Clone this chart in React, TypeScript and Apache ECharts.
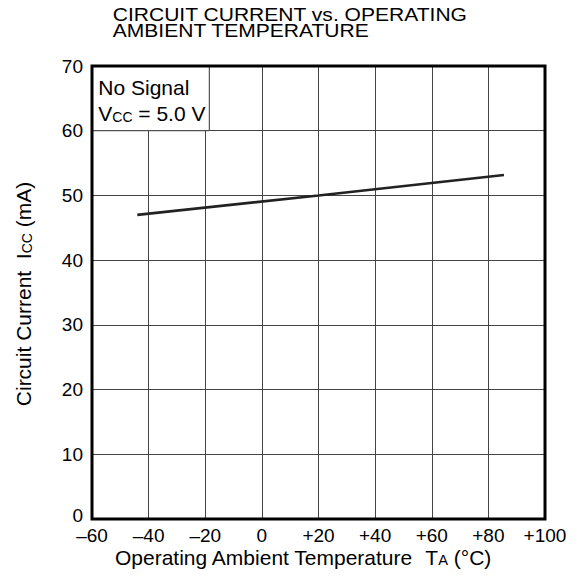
import React, { useEffect, useRef } from "react";
import * as echarts from "echarts";

// ---- data ----
const temperatureC = [-44, 20, 85.5];
const currentMA = [47.0, 50.0, 53.15];

const xMin = -60;
const xMax = 100;
const xStep = 20;
const yMin = 0;
const yMax = 70;
const yStep = 10;

const titleLines = ["CIRCUIT CURRENT vs. OPERATING", "AMBIENT TEMPERATURE"];
const noteLine1 = "No Signal";
const noteVcc = ["V", "CC", "= 5.0 V"];
const xName = ["Operating Ambient Temperature", "T", "A", "(°C)"];
const yName = ["Circuit Current", "I", "CC", "(mA)"];

// ---- layout ----
const W = 583;
const H = 577;
const GRID = { left: 92, top: 66, width: 453, height: 453 };
const FONT = "'Liberation Sans', Arial, Helvetica, sans-serif";

function fmtX(v: number): string {
  if (v > 0) return "+" + v;
  if (v < 0) return "\u2013" + -v;
  return "0";
}

function fmtY(v: number): string {
  return v === 0 ? "{z|0}" : String(v);
}

function rich(fs: number, sfs: number, gap1: number, gap2: number) {
  const m = { fontSize: fs, fontFamily: FONT, fill: "#000", lineHeight: fs, verticalAlign: "bottom" };
  return {
    m,
    s: {
      fontSize: sfs,
      fontFamily: FONT,
      fill: "#000",
      lineHeight: fs - 0.62 * (fs - sfs),
      verticalAlign: "bottom",
    },
    g: { ...m, padding: [0, 0, 0, gap1] },
    h: { ...m, padding: [0, 0, 0, gap2] },
  };
}

export default function App() {
  const ref = useRef<HTMLDivElement>(null);

  useEffect(() => {
    if (!ref.current) return;
    const chart = echarts.init(ref.current, undefined, { renderer: "svg", width: W, height: H });

    const data = temperatureC.map((t, i) => [t, currentMA[i]]);
    const rowH = GRID.height / ((yMax - yMin) / yStep);

    chart.setOption({
      animation: false,
      backgroundColor: "#fff",
      grid: {
        left: GRID.left,
        top: GRID.top,
        width: GRID.width,
        height: GRID.height,
        show: false,
      },
      xAxis: {
        type: "value",
        min: xMin,
        max: xMax,
        interval: xStep,
        axisLine: { show: false },
        axisTick: { show: false },
        splitLine: { show: true, showMinLine: false, showMaxLine: false, lineStyle: { color: "#444", width: 1 } },
        axisLabel: {
          fontSize: 19,
          fontFamily: FONT,
          color: "#000",
          margin: 7,
          formatter: fmtX,
        },
      },
      yAxis: {
        type: "value",
        min: yMin,
        max: yMax,
        interval: yStep,
        axisLine: { show: false },
        axisTick: { show: false },
        splitLine: { show: true, showMinLine: false, showMaxLine: false, lineStyle: { color: "#444", width: 1 } },
        axisLabel: {
          fontSize: 19,
          fontFamily: FONT,
          color: "#000",
          margin: 9,
          formatter: fmtY,
          rich: {
            z: { fontSize: 19, fontFamily: FONT, color: "#000", padding: [0, 0, 8, 0] },
          },
        },
      },
      series: [
        {
          type: "line",
          data,
          showSymbol: false,
          symbol: "none",
          lineStyle: { color: "#222", width: 2.6 },
          z: 5,
        },
      ],
      graphic: [
        {
          type: "text",
          x: 112.7,
          y: 6.7,
          scaleX: 1.15,
          z: 60,
          style: {
            text: titleLines.join("\n"),
            fontSize: 18.3,
            fontFamily: FONT,
            lineHeight: 15.7,
            fill: "#000",
            align: "left",
            verticalAlign: "top",
            textAlign: "left",
            textVerticalAlign: "top",
          },
        },
        {
          type: "rect",
          z: 50,
          shape: { x: GRID.left, y: GRID.top, width: 117.3, height: rowH },
          style: { fill: "#fff", stroke: "#333", lineWidth: 1 },
        },
        {
          type: "text",
          x: 98.3,
          y: 87.8,
          z: 60,
          style: {
            text: "{m|" + noteLine1 + "}",
            rich: rich(21, 14, 5.8, 5.8),
            align: "left",
            verticalAlign: "middle",
            textAlign: "left",
            textVerticalAlign: "middle",
          },
        },
        {
          type: "text",
          x: 98.3,
          y: 113.5,
          z: 60,
          style: {
            text: "{m|" + noteVcc[0] + "}{s|" + noteVcc[1] + "}{g|" + noteVcc[2] + "}",
            rich: rich(21, 14, 5.8, 5.8),
            align: "left",
            verticalAlign: "middle",
            textAlign: "left",
            textVerticalAlign: "middle",
          },
        },
        {
          type: "text",
          x: 115,
          y: 557.5,
          scaleX: 1.05,
          z: 60,
          style: {
            text: "{m|" + xName[0] + "}{g|" + xName[1] + "}{s|" + xName[2] + "}{h|" + xName[3] + "}",
            rich: rich(20, 14, 11, 5.5),
            align: "left",
            verticalAlign: "middle",
            textAlign: "left",
            textVerticalAlign: "middle",
          },
        },
        {
          type: "text",
          x: 23.3,
          y: 294,
          rotation: Math.PI / 2,
          z: 60,
          style: {
            text: "{m|" + yName[0] + "}{g|" + yName[1] + "}{s|" + yName[2] + "}{h|" + yName[3] + "}",
            rich: rich(21, 14, 11.7, 5.8),
            align: "center",
            verticalAlign: "middle",
            textAlign: "center",
            textVerticalAlign: "middle",
          },
        },
        {
          type: "rect",
          z: 100,
          shape: { x: GRID.left, y: GRID.top, width: GRID.width, height: GRID.height },
          style: { fill: "none", stroke: "#000", lineWidth: 3 },
        },
      ],
    });

    return () => {
      chart.dispose();
    };
  }, []);

  return (
    <div
      ref={ref}
      style={{ position: "absolute", left: 0, top: 0, width: W, height: H, background: "#fff" }}
    />
  );
}
